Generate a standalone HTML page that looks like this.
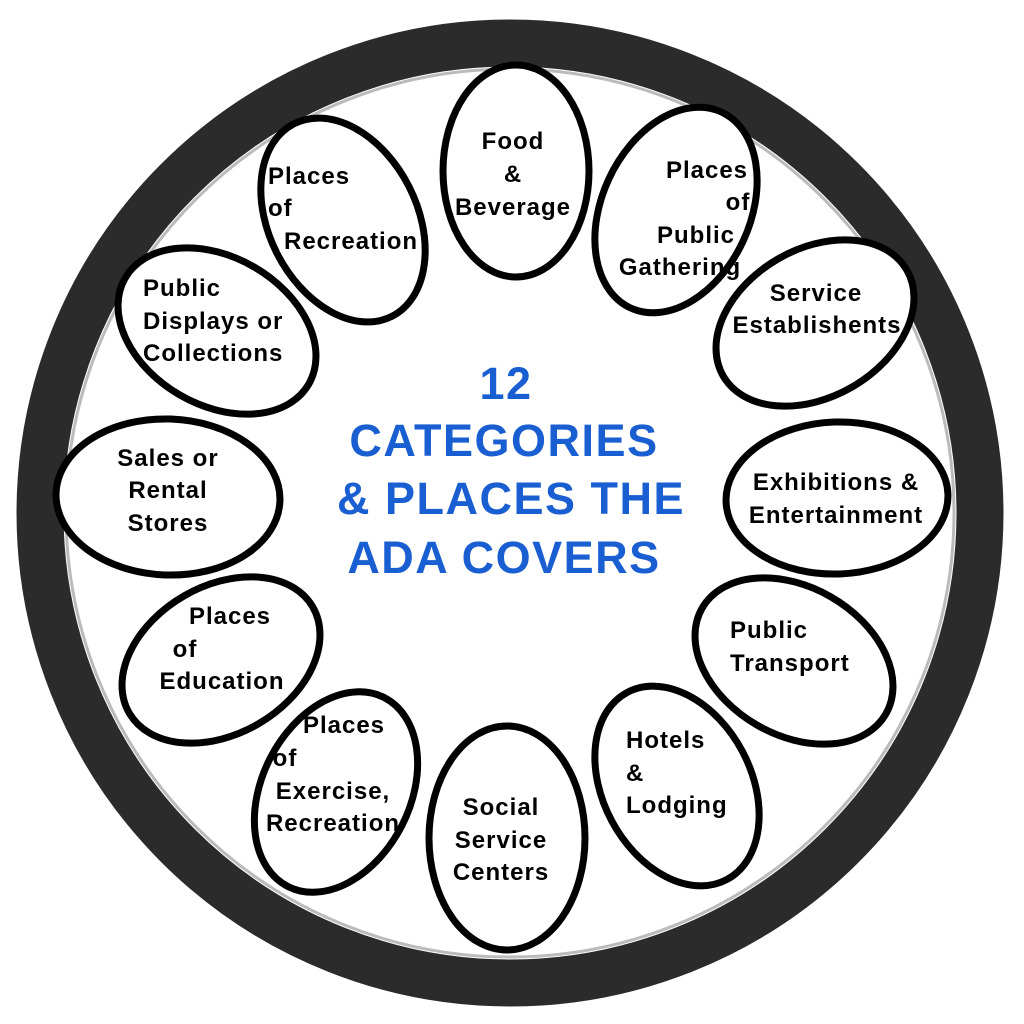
<!DOCTYPE html>
<html><head><meta charset="utf-8"><style>
html,body{margin:0;padding:0;background:#fff}
svg{display:block}
.t{font-family:"Liberation Sans",Arial,sans-serif;font-weight:bold;font-size:24px;letter-spacing:1px;fill:#000}
.c{font-family:"Liberation Sans",Arial,sans-serif;font-weight:bold;font-size:45px;letter-spacing:1.5px;fill:#1a5fd2}
</style></head><body>
<svg width="1024" height="1024" viewBox="0 0 1024 1024" xmlns="http://www.w3.org/2000/svg">
<rect width="1024" height="1024" fill="#fff"/>
<circle cx="510" cy="513" r="444" fill="none" stroke="#bbb" stroke-width="3"/>
<circle cx="510" cy="513" r="470" fill="none" stroke="#2b2b2b" stroke-width="47"/>
<g fill="#fff" stroke="#000" stroke-width="7">
<ellipse cx="516" cy="171" rx="73" ry="106" transform="rotate(0 516 171)"/>
<ellipse cx="676" cy="210" rx="74" ry="108" transform="rotate(25 676 210)"/>
<ellipse cx="815" cy="323" rx="74" ry="106" transform="rotate(60 815 323)"/>
<ellipse cx="837" cy="498" rx="76" ry="111" transform="rotate(88 837 498)"/>
<ellipse cx="794" cy="661" rx="74" ry="106" transform="rotate(120 794 661)"/>
<ellipse cx="677" cy="786" rx="74" ry="106" transform="rotate(152 677 786)"/>
<ellipse cx="507" cy="838" rx="78" ry="112" transform="rotate(180 507 838)"/>
<ellipse cx="336" cy="792" rx="74" ry="106" transform="rotate(207 336 792)"/>
<ellipse cx="221" cy="660" rx="74" ry="106" transform="rotate(240 221 660)"/>
<ellipse cx="168" cy="497" rx="78" ry="112" transform="rotate(272 168 497)"/>
<ellipse cx="217" cy="331" rx="74" ry="106" transform="rotate(300 217 331)"/>
<ellipse cx="343" cy="220" rx="74" ry="108" transform="rotate(333 343 220)"/>
</g>
<g class="t" text-anchor="middle">
<text x="513" y="149">Food</text><text x="513" y="182">&amp;</text><text x="513" y="215">Beverage</text>
<text x="707" y="178">Places</text><text x="738" y="210">of</text><text x="696" y="243">Public</text><text x="680" y="275">Gathering</text>
<text x="816" y="301">Service</text><text x="817" y="333">Establishents</text>
<text x="836" y="490">Exhibitions &amp;</text><text x="836" y="523">Entertainment</text>
<text x="501" y="815">Social</text><text x="501" y="848">Service</text><text x="501" y="880">Centers</text>
<text x="344" y="733">Places</text><text x="285" y="766">of</text><text x="333" y="799">Exercise,</text><text x="333" y="831">Recreation</text>
<text x="230" y="624">Places</text><text x="185" y="657">of</text><text x="222" y="689">Education</text>
<text x="168" y="466">Sales or</text><text x="168" y="498">Rental</text><text x="168" y="531">Stores</text>
</g>
<g class="t">
<text x="730" y="638">Public</text><text x="730" y="671">Transport</text>
<text x="626" y="748">Hotels</text><text x="626" y="781">&amp;</text><text x="626" y="813">Lodging</text>
<text x="143" y="296">Public</text><text x="143" y="329">Displays or</text><text x="143" y="361">Collections</text>
<text x="268" y="184">Places</text><text x="268" y="216">of</text><text x="284" y="249">Recreation</text>
</g>
<g class="c" text-anchor="middle">
<text x="506" y="399">12</text>
<text x="504" y="456">CATEGORIES</text>
<text x="511" y="514">&amp; PLACES THE</text>
<text x="504" y="573">ADA COVERS</text>
</g>
</svg>
</body></html>
